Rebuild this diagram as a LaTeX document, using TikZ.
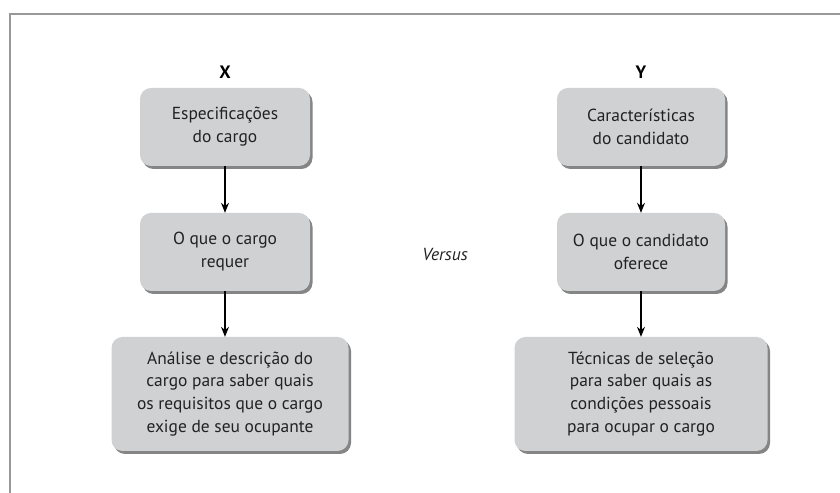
\documentclass[tikz,border=0pt]{standalone}
\usepackage{fontspec}
\setmainfont{PT Sans}
\usetikzlibrary{arrows.meta,shadows}
\definecolor{boxgray}{HTML}{D0D1D3}
\definecolor{textgray}{HTML}{222222}
\tikzset{
  stage/.style={draw=none, fill=boxgray, rounded corners=11bp, align=center,
    text=textgray, font=\fontsize{17.5}{23}\selectfont,
    drop shadow={shadow xshift=2.5bp, shadow yshift=-3bp, fill=black!60, opacity=0.8}},
  head/.style={font=\fontsize{18}{20}\selectfont\bfseries, text=black},
  flow/.style={-{Stealth[length=10bp,width=8bp]}, line width=1.1bp}
}
\begin{document}
\begin{tikzpicture}[x=1bp,y=1bp]
  \useasboundingbox (0,0) rectangle (840,493);
  % frame
  \draw[gray!80, line width=1.6bp] (10,0) -- (10,479) -- (840,479);
  % left column
  \node[head] (x) at (225,421) {X};
  \node[stage, minimum width=170bp, minimum height=78bp] (specs) at (225,366) {Especificações\\do cargo};
  \node[stage, minimum width=170bp, minimum height=78bp] (requires) at (225,241) {O que o cargo\\requer};
  \node[stage, minimum width=237bp, minimum height=114bp] (analysis) at (230,99) {Análise e descrição do\\cargo para saber quais\\os requisitos que o cargo\\exige de seu ocupante};
  % right column
  \node[head] (y) at (641,421) {Y};
  \node[stage, minimum width=168bp, minimum height=78bp] (traits) at (641,366) {Características\\do candidato};
  \node[stage, minimum width=168bp, minimum height=78bp] (offers) at (641,241) {O que o candidato\\oferece};
  \node[stage, minimum width=253bp, minimum height=114bp] (selection) at (641,99) {Técnicas de seleção\\para saber quais as\\condições pessoais\\para ocupar o cargo};
  % middle
  \node[font=\fontsize{17.5}{20}\selectfont\itshape, text=textgray] (versus) at (445,238) {Versus};
  % arrows
  \draw[flow] (specs) -- (requires);
  \draw[flow] (requires.south -| specs) -- (analysis.north -| specs);
  \draw[flow] (traits) -- (offers);
  \draw[flow] (offers) -- (selection);
\end{tikzpicture}
\end{document}
